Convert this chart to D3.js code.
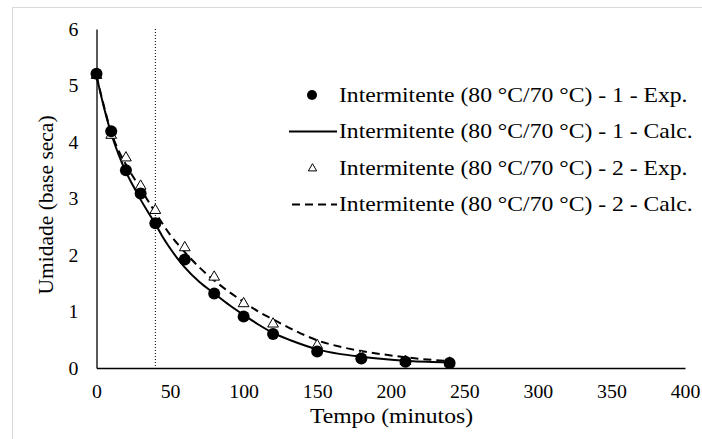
<!DOCTYPE html>
<html>
<head>
<meta charset="utf-8">
<script src="https://cdn.jsdelivr.net/npm/d3@7"></script>
<style>
  body { margin: 0; background: #fff; }
</style>
</head>
<body>
<svg class="viz" width="702" height="439"></svg>
<script>
// data
var expTime1 = [0, 10, 20, 30, 40, 60, 80, 100, 120, 150, 180, 210, 240];
var expVal1  = [5.21, 4.19, 3.5, 3.09, 2.56, 1.92, 1.32, 0.91, 0.6, 0.29, 0.17, 0.11, 0.09];

var expTime2 = [0, 10, 20, 30, 40, 60, 80, 100, 120, 150, 180, 210, 240];
var expVal2  = [5.18, 4.12, 3.72, 3.22, 2.79, 2.13, 1.61, 1.14, 0.78, 0.4, 0.21, 0.12, 0.09];

var calcTime = [0, 5, 10, 15, 20, 25, 30, 35, 40, 45, 50, 55, 60, 70, 80, 90, 100, 110, 120, 135, 150, 165, 180, 195, 210, 225, 240];
var calcVal1 = [5.17, 4.62, 4.15, 3.78, 3.47, 3.22, 2.98, 2.76, 2.55, 2.32, 2.12, 1.94, 1.78, 1.52, 1.32, 1.12, 0.94, 0.77, 0.62, 0.46, 0.33, 0.25, 0.2, 0.16, 0.13, 0.11, 0.1];
var calcVal2 = [5.17, 4.64, 4.17, 3.85, 3.6, 3.38, 3.18, 2.96, 2.75, 2.55, 2.36, 2.2, 2.05, 1.78, 1.55, 1.35, 1.17, 1.0, 0.86, 0.66, 0.49, 0.38, 0.3, 0.24, 0.19, 0.15, 0.12];

var xTicks = [0, 50, 100, 150, 200, 250, 300, 350, 400];
var yTicks = [0, 1, 2, 3, 4, 5, 6];
var markerTime = 40;

var legendLabels = [
  "Intermitente (80 °C/70 °C) - 1 - Exp.",
  "Intermitente (80 °C/70 °C) - 1 - Calc.",
  "Intermitente (80 °C/70 °C) - 2 - Exp.",
  "Intermitente (80 °C/70 °C) - 2 - Calc."
];

var svg = d3.select(".viz");
var serif = "'Liberation Serif', 'Times New Roman', serif";
var stretch = 1.1; // the reference text is a bit wider than it is tall

// outer frame (only top and left edges are inside the picture)
svg.append("rect")
  .attr("x", 12.5).attr("y", 7.5)
  .attr("width", 720).attr("height", 460)
  .attr("fill", "none")
  .attr("stroke", "#d9d9d9")
  .attr("stroke-width", 1);

var xScale = d3.scaleLinear().domain([0, 400]).range([96.5, 685]);
var yScale = d3.scaleLinear().domain([0, 6]).range([368, 29]);

// axes, no tick marks
var xAxis = d3.axisBottom(xScale).tickValues(xTicks).tickSize(0).tickPadding(0).tickFormat(d3.format("d"));
var yAxis = d3.axisLeft(yScale).tickValues(yTicks).tickSize(0).tickPadding(0).tickFormat(d3.format("d"));

var gx = svg.append("g").attr("transform", "translate(0," + yScale(0) + ")").call(xAxis);
var gy = svg.append("g").attr("transform", "translate(" + xScale(0) + ",0)").call(yAxis);

[gx, gy].forEach(function (g) {
  g.attr("font-family", serif).attr("font-size", 18);
  g.select(".domain").attr("stroke", "#000").attr("stroke-width", 1.3);
  g.selectAll(".tick text").attr("fill", "#000").attr("font-family", serif).attr("font-size", 18);
});

gx.selectAll(".tick text")
  .attr("y", 0).attr("dy", null)
  .attr("transform", "translate(0,30) scale(" + stretch + ",1)");

gy.selectAll(".tick text")
  .attr("x", 0).attr("dy", null)
  .attr("text-anchor", "end")
  .attr("transform", "translate(-18,6) scale(" + stretch + ",1)");

// dotted vertical line at the switch time
svg.append("line")
  .attr("x1", xScale(markerTime)).attr("x2", xScale(markerTime))
  .attr("y1", yScale(6)).attr("y2", yScale(0))
  .attr("stroke", "#000")
  .attr("stroke-width", 1)
  .attr("stroke-dasharray", "1,2");

// calculated curves
var line = d3.line()
  .x(function (d) { return xScale(d[0]); })
  .y(function (d) { return yScale(d[1]); })
  .curve(d3.curveMonotoneX);

var calc1 = d3.zip(calcTime, calcVal1);
var calc2 = d3.zip(calcTime, calcVal2);

svg.append("path")
  .datum(calc2)
  .attr("d", line)
  .attr("fill", "none")
  .attr("stroke", "#000")
  .attr("stroke-width", 2)
  .attr("stroke-dasharray", "8,5");

svg.append("path")
  .datum(calc1)
  .attr("d", line)
  .attr("fill", "none")
  .attr("stroke", "#000")
  .attr("stroke-width", 2);

// experimental points
var tri = d3.symbol().type(d3.symbolTriangle).size(50);

svg.selectAll("path.exp2")
  .data(d3.zip(expTime2, expVal2))
  .enter()
  .append("path")
  .attr("class", "exp2")
  .attr("d", tri)
  .attr("transform", function (d) { return "translate(" + xScale(d[0]) + "," + yScale(d[1]) + ")"; })
  .attr("fill", "#fff")
  .attr("stroke", "#000")
  .attr("stroke-width", 1);

svg.selectAll("circle.exp1")
  .data(d3.zip(expTime1, expVal1))
  .enter()
  .append("circle")
  .attr("class", "exp1")
  .attr("cx", function (d) { return xScale(d[0]); })
  .attr("cy", function (d) { return yScale(d[1]); })
  .attr("r", 6)
  .attr("fill", "#000");

// legend
var legendX = 339, legendY = 101.5, legendStep = 36.5;
var legend = svg.append("g");

legendLabels.forEach(function (label, i) {
  var base = legendY + i * legendStep;
  var mid = base - 6.5;
  if (i === 0) {
    legend.append("circle").attr("cx", 312).attr("cy", mid).attr("r", 5).attr("fill", "#000");
  } else if (i === 1) {
    legend.append("line").attr("x1", 289).attr("x2", 337).attr("y1", mid).attr("y2", mid)
      .attr("stroke", "#000").attr("stroke-width", 2);
  } else if (i === 2) {
    legend.append("path").attr("d", d3.symbol().type(d3.symbolTriangle).size(30))
      .attr("transform", "translate(312.5," + (mid + 0.5) + ")")
      .attr("fill", "#fff").attr("stroke", "#000").attr("stroke-width", 1);
  } else {
    legend.append("line").attr("x1", 292).attr("x2", 337).attr("y1", mid).attr("y2", mid)
      .attr("stroke", "#000").attr("stroke-width", 2).attr("stroke-dasharray", "8,5");
  }
  legend.append("text")
    .attr("transform", "translate(" + legendX + "," + base + ") scale(" + stretch + ",1)")
    .attr("font-family", serif)
    .attr("font-size", 21.5)
    .attr("fill", "#000")
    .text(label);
});

// axis titles
svg.append("text")
  .attr("transform", "translate(391.5,423) scale(" + stretch + ",1)")
  .attr("text-anchor", "middle")
  .attr("font-family", serif)
  .attr("font-size", 21.5)
  .attr("fill", "#000")
  .text("Tempo (minutos)");

svg.append("text")
  .attr("transform", "translate(53,205) rotate(-90)")
  .attr("text-anchor", "middle")
  .attr("font-family", serif)
  .attr("font-size", 21.5)
  .attr("fill", "#000")
  .text("Umidade (base seca)");
</script>
</body>
</html>
